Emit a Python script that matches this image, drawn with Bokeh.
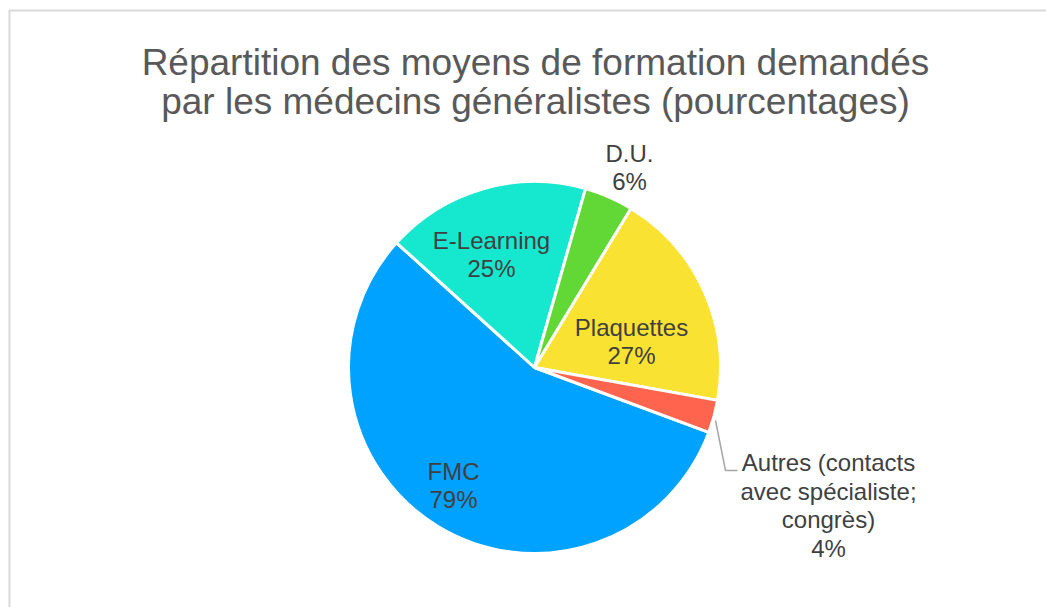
import math
from bokeh.plotting import figure
from bokeh.models import Range1d, ColumnDataSource
from bokeh.core.properties import value
from bokeh.embed import file_html
from bokeh.resources import INLINE

categories = ["FMC", "E-Learning", "D.U.", "Plaquettes", "Autres (contacts\navec spécialiste;\ncongrès)"]
values = [79, 25, 6, 27, 4]
colors = ["#00A2FF", "#16E7CF", "#61D836", "#FAE232", "#FF644E"]
title_lines = ["Répartition des moyens de formation demandés",
               "par les médecins généralistes (pourcentages)"]

W, H = 1046, 607
p = figure(width=W, height=H, x_range=Range1d(0, W), y_range=Range1d(0, H),
           output_backend="svg", toolbar_location=None, min_border=0)
p.axis.visible = False
p.grid.visible = False
p.outline_line_color = None
p.background_fill_color = "white"
p.border_fill_color = "white"

def Y(py):
    return H - py

def X(px):
    return px

FONT = value("Liberation Sans")

# chart border (light grey)
p.line(x=[X(9), X(9), X(1100)], y=[Y(700), Y(10), Y(10)], line_color="#D9D9D9", line_width=2)

# pie
cx, cy, r = X(534), Y(367), 186
total = sum(values)
start_clock = 110.4
starts, ends = [], []
acc = start_clock
for v in values:
    a0 = acc
    a1 = acc + v / total * 360.0
    starts.append(math.radians(90 - a0))
    ends.append(math.radians(90 - a1))
    acc = a1
src = ColumnDataSource(dict(start=starts, end=ends, color=colors))
p.wedge(x=cx, y=cy, radius=r, start_angle="start", end_angle="end", direction="clock",
        fill_color="color", line_color="white", line_width=3, source=src)

# leader line for Autres
p.line(x=[X(715), X(725), X(737)], y=[Y(420), Y(470), Y(470)], line_color="#A6A6A6", line_width=1.5)

# labels
lab_x = [X(453), X(491), X(629), X(631), X(828)]
lab_y = [Y(485), Y(254), Y(167), Y(341), Y(505)]
texts = [f"{c}\n{v}%" for c, v in zip(categories, values)]
p.text(x=lab_x, y=lab_y, text=texts, text_align="center", text_baseline="middle",
       text_font=FONT, text_font_size="24px", text_color="#404040",
       text_line_height=1.07)

# title
p.text(x=[X(535), X(535)], y=[Y(62), Y(101)], text=title_lines, text_align="center",
       text_baseline="alphabetic", text_font=FONT, text_font_size="37px",
       text_color="#595959")

open("out.html", "w").write(file_html(p, INLINE))
